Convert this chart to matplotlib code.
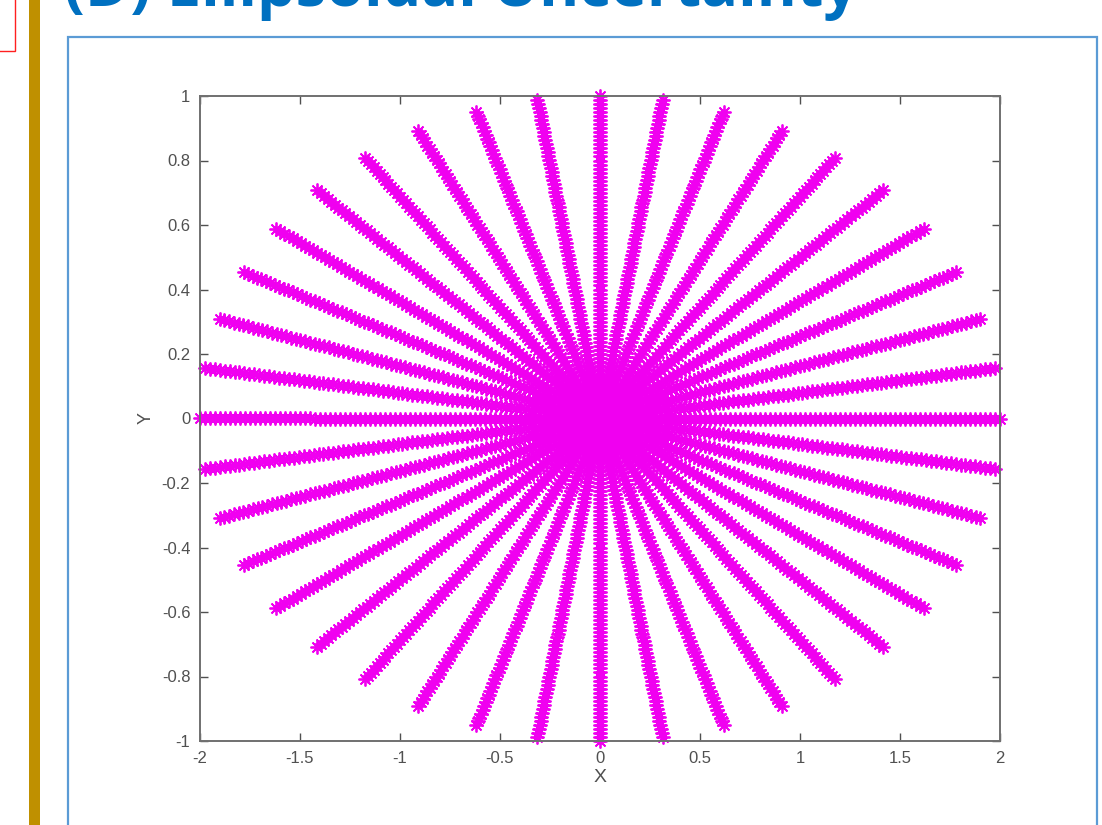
import numpy as np
import matplotlib
matplotlib.use("Agg")
from matplotlib import pyplot as plt
from matplotlib.patches import Rectangle

# ray directions (parameter angle on the ellipse, degrees) and ellipse semi-axes
ray_angles_deg = [0, 9, 18, 27, 36, 45, 54, 63, 72, 81,
                  90, 99, 108, 117, 126, 135, 144, 153, 162, 171,
                  180, 189, 198, 207, 216, 225, 234, 243, 252, 261,
                  270, 279, 288, 297, 306, 315, 324, 333, 342, 351]
semi_axis_x = 2.0
semi_axis_y = 1.0
samples_per_ray = 81

x_ticks = [-2, -1.5, -1, -0.5, 0, 0.5, 1, 1.5, 2]
x_tick_labels = ["-2", "-1.5", "-1", "-0.5", "0", "0.5", "1", "1.5", "2"]
y_ticks = [-1, -0.8, -0.6, -0.4, -0.2, 0, 0.2, 0.4, 0.6, 0.8, 1]
y_tick_labels = ["-1", "-0.8", "-0.6", "-0.4", "-0.2", "0", "0.2", "0.4", "0.6", "0.8", "1"]

W, H = 1102, 825
fig = plt.figure(figsize=(W / 100, H / 100), dpi=100)
fig.patch.set_facecolor("white")


def px_rect(x0, y0, x1, y1, **kw):
    # rectangle given in pixel coordinates measured from the top-left corner
    return Rectangle((x0 / W, 1 - y1 / H), (x1 - x0) / W, (y1 - y0) / H,
                     transform=fig.transFigure, **kw)


# slide decorations
fig.add_artist(px_rect(-5, -5, 15, 51, fill=False, edgecolor="#FF2020", linewidth=1.0))
fig.add_artist(px_rect(29, -5, 40, H + 5, facecolor="#BF9000", edgecolor="none"))
fig.add_artist(px_rect(68, 37, 1097, H + 10, fill=False, edgecolor="#5B9BD5", linewidth=1.6))
fig.text(64 / W, 1 - 6 / H, "(D) Ellipsoidal Uncertainty", color="#0070C0",
         fontsize=44, fontweight="bold", family="Open Sans", va="baseline", ha="left")

ax = fig.add_axes([200 / W, 1 - 741 / H, 800 / W, 645 / H])

t = np.linspace(0.0, 1.0, samples_per_ray)
for ang in ray_angles_deg:
    th = np.deg2rad(ang)
    xs = t * semi_axis_x * np.cos(th)
    ys = t * semi_axis_y * np.sin(th)
    ax.plot(xs, ys, linestyle="none", marker=(8, 2, 0), markersize=10,
            markeredgewidth=1.3, color="#FF00FF", markeredgecolor="#F000F0",
            clip_on=False)

ax.set_xlim(-2, 2)
ax.set_ylim(-1, 1)
ax.set_xticks(x_ticks)
ax.set_xticklabels(x_tick_labels)
ax.set_yticks(y_ticks)
ax.set_yticklabels(y_tick_labels)

for side in ax.spines.values():
    side.set_color("#707070")
    side.set_linewidth(1.4)
ax.tick_params(direction="in", length=6, width=1.0, color="#505050",
               top=True, right=True, labelsize=12, labelcolor="#505050", pad=7)
for lbl in ax.get_xticklabels() + ax.get_yticklabels():
    lbl.set_family("Liberation Sans")

ax.set_xlabel("X", fontsize=14, color="#505050", family="Liberation Sans", labelpad=2)
ax.set_ylabel("Y", fontsize=13, color="#505050", family="Liberation Sans", labelpad=5)

fig.savefig("out.png", dpi=100)
